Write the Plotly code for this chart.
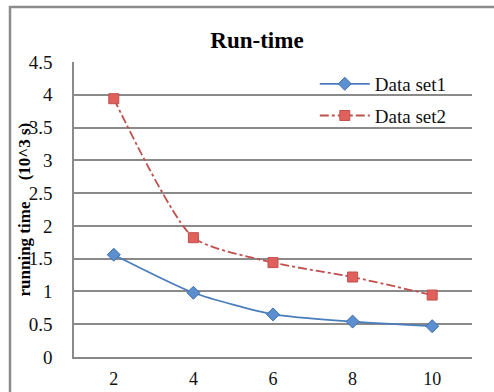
import plotly.graph_objects as go

x_vals = [2, 4, 6, 8, 10]
set1 = [1.56, 0.98, 0.65, 0.54, 0.47]
set2 = [3.94, 1.82, 1.44, 1.22, 0.945]
y_ticks = [0, 0.5, 1, 1.5, 2, 2.5, 3, 3.5, 4, 4.5]
y_tick_text = ["0", "0.5", "1", "1.5", "2", "2.5", "3", "3.5", "4", "4.5"]

FONT = "Liberation Serif"

fig = go.Figure()
fig.add_trace(go.Scatter(
    x=x_vals, y=set1, name="Data set1", mode="lines+markers",
    line=dict(color="#4a7ebb", width=1.8, shape="spline", smoothing=0.6),
    marker=dict(symbol="diamond", size=10, color="#5b8fd0", line=dict(color="#3f6fae", width=1)),
    legendgroup="a",
))
fig.add_trace(go.Scatter(
    x=x_vals, y=set2, name="Data set2", mode="lines+markers",
    line=dict(color="#c0504d", width=1.8, dash="dashdot", shape="spline", smoothing=0.6),
    marker=dict(symbol="square", size=10, color="#e0605c", line=dict(color="#c0504d", width=1)),
    legendgroup="b",
))

fig.update_layout(
    width=494, height=392,
    margin=dict(l=74, r=22, t=62, b=35, autoexpand=False),
    paper_bgcolor="white", plot_bgcolor="white",
    font=dict(family=FONT, color="#111", size=16),
    title=dict(text="<b>Run-time</b>", x=(257 - 74) / 398, xref="paper", xanchor="center",
               y=1 - 40 / 392, yanchor="middle", font=dict(size=23, family=FONT, color="#000")),
    showlegend=True,
    legend=dict(x=0.605, y=0.99, xanchor="left", yanchor="top", bgcolor="rgba(0,0,0,0)",
                font=dict(size=19, family=FONT, color="#111"), traceorder="grouped",
                tracegroupgap=4, itemwidth=50),
    xaxis=dict(range=[1, 11], tickvals=x_vals, ticktext=[str(v) for v in x_vals],
               showgrid=False, zeroline=False, showline=True, linecolor="#888", linewidth=2,
               ticks="outside", ticklen=4, tickcolor="rgba(0,0,0,0)", automargin=False,
               tickfont=dict(size=18, family=FONT, color="#111")),
    yaxis=dict(range=[0, 4.5], tickvals=y_ticks, ticktext=y_tick_text,
               showgrid=True, gridcolor="#8a8a8a", gridwidth=1.5, zeroline=False,
               showline=True, linecolor="#8a8a8a", linewidth=1.5, automargin=False,
               ticks="outside", ticklen=16, tickcolor="rgba(0,0,0,0)",
               tickfont=dict(size=19, family=FONT, color="#111")),
)

fig.add_annotation(
    text="<b>running time\u00a0\u00a0\u00a0\u00a0\u00a0(10^3 s)</b>", textangle=-90,
    xref="paper", yref="paper", x=(24 - 74) / 398, y=0.5, xanchor="center", yanchor="middle",
    showarrow=False, font=dict(size=17, family=FONT, color="#000"),
)

fig.add_shape(type="rect", xref="paper", yref="paper",
              x0=(10 - 74) / 398, x1=1.2, y0=-0.3, y1=(357 - 7) / 295,
              line=dict(color="#8c8c8c", width=2.5), layer="below")

fig.write_html("out.html")
